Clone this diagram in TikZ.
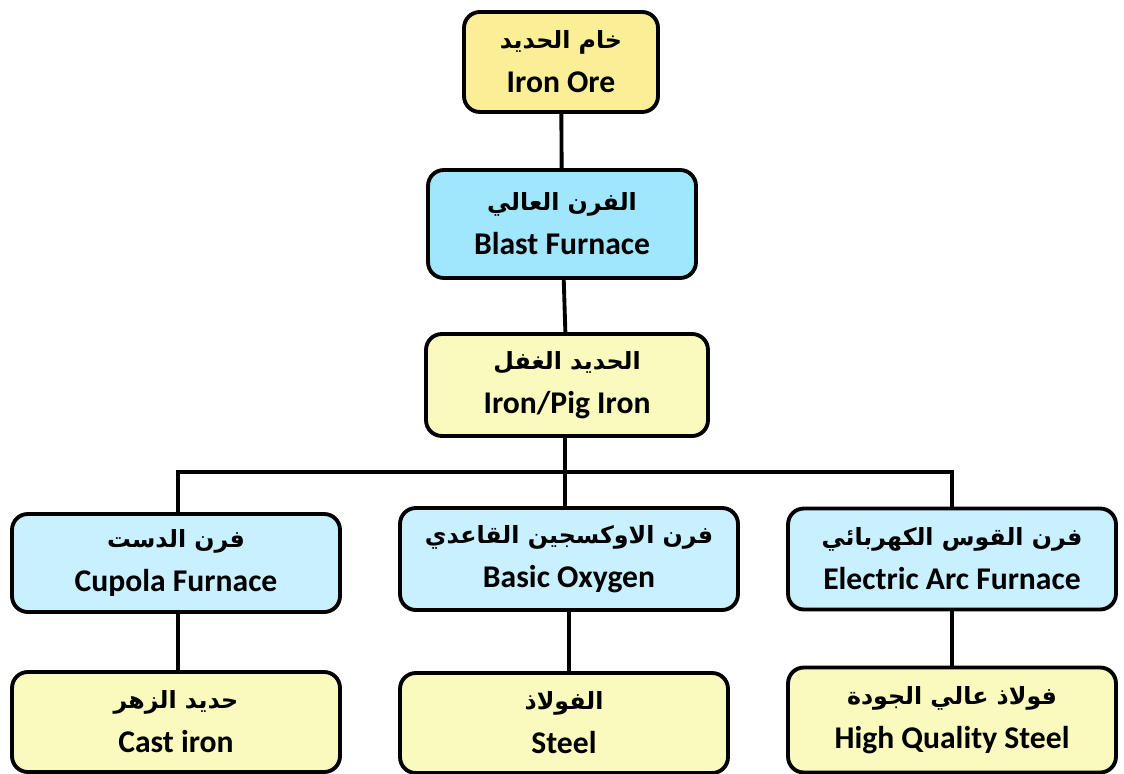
\documentclass[tikz,border=0pt]{standalone}
\usepackage{fontspec}
\setmainfont{Carlito}
\newfontfamily\arabicfont[Script=Arabic]{DejaVu Sans}
\TeXXeTstate=1
\definecolor{oreyellow}{RGB}{250,238,150}
\definecolor{blastblue}{RGB}{160,230,252}
\definecolor{paleyellow}{RGB}{250,250,190}
\definecolor{furnblue}{RGB}{200,240,254}
\newcommand{\artxt}[1]{{\arabicfont\fontsize{13.5}{16}\selectfont\beginR #1\endR}}
\tikzset{
  stage/.style={draw=black, line width=2.2pt, rounded corners=9pt, align=center,
    font=\fontsize{18}{25}\selectfont\bfseries, inner sep=0pt},
  link/.style={line width=2.2pt}
}

\begin{document}
\begin{tikzpicture}[x=0.02cm, y=-0.02cm]

    \useasboundingbox (0,0) rectangle (1124,773);

    % main chain
    \node[stage, fill=oreyellow, minimum width=3.88cm, minimum height=2.0cm] (ore) at (561,62)
      {\artxt{خام الحديد}\\Iron Ore};
    \node[stage, fill=blastblue, minimum width=5.36cm, minimum height=2.16cm] (blast) at (562,224)
      {\artxt{الفرن العالي}\\Blast Furnace};
    \node[stage, fill=paleyellow, minimum width=5.64cm, minimum height=2.04cm] (pig) at (567,385)
      {\artxt{الحديد الغفل}\\Iron/Pig Iron};

    % furnaces
    \node[stage, fill=furnblue, minimum width=6.56cm, minimum height=1.96cm] (cupola) at (176,563)
      {\artxt{فرن الدست}\\Cupola Furnace};
    \node[stage, fill=furnblue, minimum width=6.76cm, minimum height=2.04cm] (bof) at (569,559)
      {\artxt{فرن الاوكسجين القاعدي}\\Basic Oxygen};
    \node[stage, fill=furnblue, minimum width=6.56cm, minimum height=2.02cm] (eaf) at (952,559)
      {\artxt{فرن القوس الكهربائي}\\Electric Arc Furnace};

    % products
    \node[stage, fill=paleyellow, minimum width=6.56cm, minimum height=2.0cm] (cast) at (176,722)
      {\artxt{حديد الزهر}\\Cast iron};
    \node[stage, fill=paleyellow, minimum width=6.56cm, minimum height=2.0cm] (steel) at (564,723)
      {\artxt{الفولاذ}\\Steel};
    \node[stage, fill=paleyellow, minimum width=6.56cm, minimum height=2.1cm] (hqs) at (952,720)
      {\artxt{فولاذ عالي الجودة}\\High Quality Steel};

    \coordinate (junc) at (565,472);

    % connectors
    \draw[link] (ore) -- (blast);
    \draw[link] (blast) -- (pig);
    \draw[link] (pig.south -| junc) -- (junc);
    \draw[link] (cupola.north -| 178,0) |- (junc) -| (eaf.north);
    \draw[link] (junc) -- (junc |- bof.north);
    \draw[link] (cupola.south -| 178,0) -- (cast.north -| 178,0);
    \draw[link] (bof) -- (bof |- steel.north);
    \draw[link] (eaf) -- (hqs);

\end{tikzpicture}
\end{document}
